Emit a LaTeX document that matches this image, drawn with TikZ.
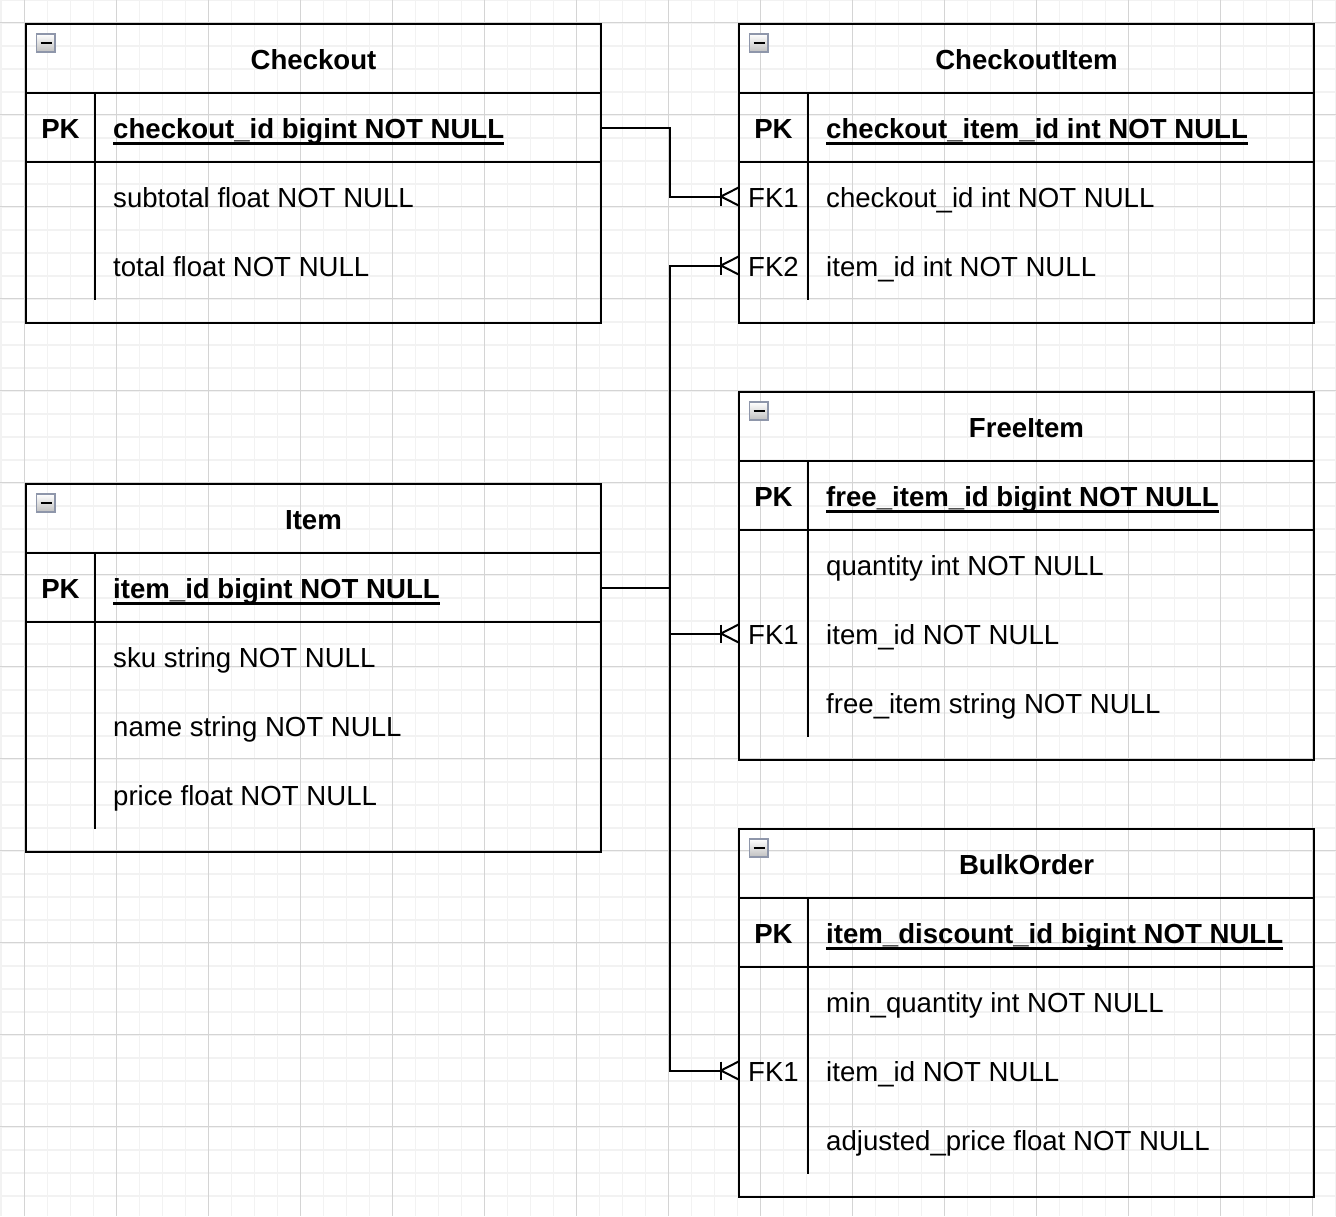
\documentclass[tikz,border=0pt]{standalone}
\usepackage{fontspec}
\setmainfont{Liberation Sans}
\definecolor{gridminor}{HTML}{F2F2F2}
\definecolor{gridmajor}{HTML}{D4D4D4}
\definecolor{iconrim}{HTML}{8E96AA}

% table frame: name, left, top, number of rows below the key row, title
\newcommand\ertable[5]{%
  \pgfmathsetmacro\erbottom{#3+69*(#4+2)+23}%
  \pgfmathsetmacro\errowsend{#3+69*(#4+2)}%
  \node[tablebox, minimum height={\erbottom-#3}, anchor=north west] (#1) at (#2,#3) {};
  \draw[frame] ({#2},{#3+69}) -- ++(575,0);
  \draw[frame] ({#2},{#3+138}) -- ++(575,0);
  \draw[frame] ({#2+69},{#3+69}) -- ({#2+69},{\errowsend});
  \shadedraw[top color=white, bottom color=black!25, draw=iconrim, line width=1.6pt]
    ({#2+10.5},{#3+10}) rectangle ({#2+29.2},{#3+28.2});
  \draw[line width=2.6pt] ({#2+14.5},{#3+19}) -- ({#2+25.5},{#3+19});
  \node[titletext] (#1-title) at ({#2+287.5},{#3+45.5}) {#5};
}
% ordinary row: name, left, centre y, key label, field text
\newcommand\errow[5]{%
  \node[rowcell] (#1) at ({#2+287.5},{#3}) {};
  \node[keytext] (#1-key) at ({#2+34.5},{#3+10.5}) {#4};
  \node[fieldtext] (#1-field) at ({#2+87},{#3+10.5}) {#5};
}
% primary key row: name, left, centre y, field text
\newcommand\erpkrow[4]{%
  \node[rowcell] (#1) at ({#2+287.5},{#3}) {};
  \node[keytext, font=\erfont\bfseries] (#1-key) at ({#2+34.5},{#3+10.5}) {PK};
  \node[fieldtext, font=\erfont\bfseries] (#1-field) at ({#2+87},{#3+10.5}) {#4};
  \draw[line width=2.2pt] ([yshift=-5.5pt]#1-field.base west) -- ([yshift=-5.5pt]#1-field.base east);
}
\newcommand\erfont{\fontsize{27.6}{33}\selectfont}

\begin{document}
\begin{tikzpicture}[x=1pt, y=-1pt,
  minorgrid/.style={draw=gridminor, line width=1.6pt},
  majorgrid/.style={draw=gridmajor, line width=1pt},
  frame/.style={draw=black, line width=2.3pt},
  tablebox/.style={draw=black, line width=2.3pt, minimum width=575pt, inner sep=0pt, outer sep=0pt},
  rowcell/.style={minimum width=575pt, minimum height=69pt, inner sep=0pt, outer sep=0pt},
  txt/.style={font=\erfont, inner sep=0pt, anchor=base, text=black},
  titletext/.style={txt, font=\erfont\bfseries},
  keytext/.style={txt},
  fieldtext/.style={txt, anchor=base west},
  link/.style={draw=black, line width=2pt},
  crowfoot/.pic={
    \draw[link] (-18,-9) -- (-18,9);
    \draw[link] (0,-9.2) -- (-18,0) -- (0,9.2);
  }]
\useasboundingbox (0,0) rectangle (1336,1216);
\fill[white] (0,0) rectangle (1336,1216);

% background grid
\foreach \i in {0,...,58} \draw[minorgrid] ({1.3+23*\i},0) -- ({1.3+23*\i},1216);
\foreach \i in {0,...,53} \draw[minorgrid] (0,{-0.3+23*\i}) -- (1336,{-0.3+23*\i});
\foreach \i in {0,...,14} \draw[majorgrid] ({24.3+92*\i},0) -- ({24.3+92*\i},1216);
\foreach \i in {0,...,13} \draw[majorgrid] (0,{22.7+92*\i}) -- (1336,{22.7+92*\i});

% Checkout
\ertable{co}{26}{24}{2}{Checkout}
\erpkrow{co-pk}{26}{127.5}{checkout\_id bigint NOT NULL}
\errow{co-r1}{26}{196.5}{}{subtotal float NOT NULL}
\errow{co-r2}{26}{265.5}{}{total float NOT NULL}

% CheckoutItem
\ertable{ci}{739}{24}{2}{CheckoutItem}
\erpkrow{ci-pk}{739}{127.5}{checkout\_item\_id int NOT NULL}
\errow{ci-fk1}{739}{196.5}{FK1}{checkout\_id int NOT NULL}
\errow{ci-fk2}{739}{265.5}{FK2}{item\_id int NOT NULL}

% FreeItem
\ertable{fi}{739}{392}{3}{FreeItem}
\erpkrow{fi-pk}{739}{495.5}{free\_item\_id bigint NOT NULL}
\errow{fi-r1}{739}{564.5}{}{quantity int NOT NULL}
\errow{fi-fk1}{739}{633.5}{FK1}{item\_id NOT NULL}
\errow{fi-r3}{739}{702.5}{}{free\_item string NOT NULL}

% Item
\ertable{it}{26}{484}{3}{Item}
\erpkrow{it-pk}{26}{587.5}{item\_id bigint NOT NULL}
\errow{it-r1}{26}{656.5}{}{sku string NOT NULL}
\errow{it-r2}{26}{725.5}{}{name string NOT NULL}
\errow{it-r3}{26}{794.5}{}{price float NOT NULL}

% BulkOrder
\ertable{bo}{739}{829}{3}{BulkOrder}
\erpkrow{bo-pk}{739}{932.5}{item\_discount\_id bigint NOT NULL}
\errow{bo-r1}{739}{1001.5}{}{min\_quantity int NOT NULL}
\errow{bo-fk1}{739}{1070.5}{FK1}{item\_id NOT NULL}
\errow{bo-r3}{739}{1139.5}{}{adjusted\_price float NOT NULL}

% relationships (one to many)
\draw[link] (co-pk.east) -- ++(68.5,0) |- ([xshift=-18pt]ci-fk1.west);
\pic at (ci-fk1.west) {crowfoot};
\draw[link] (it-pk.east) -- ++(68.5,0) |- ([xshift=-18pt]ci-fk2.west);
\pic at (ci-fk2.west) {crowfoot};
\draw[link] (it-pk.east) -- ++(68.5,0) |- ([xshift=-18pt]fi-fk1.west);
\pic at (fi-fk1.west) {crowfoot};
\draw[link] (it-pk.east) -- ++(68.5,0) |- ([xshift=-18pt]bo-fk1.west);
\pic at (bo-fk1.west) {crowfoot};
\end{tikzpicture}
\end{document}
